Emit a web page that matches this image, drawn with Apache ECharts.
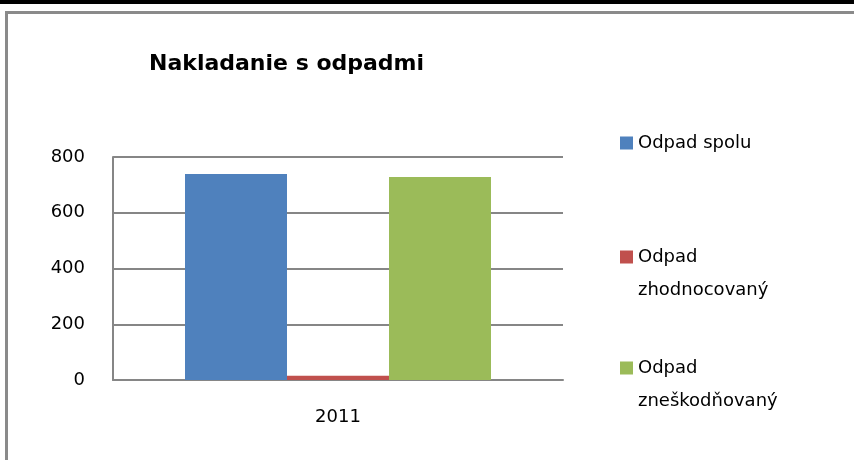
<!DOCTYPE html>
<html>
<head>
<meta charset="utf-8">
<script src="https://cdn.jsdelivr.net/npm/echarts@6/dist/echarts.min.js"></script>
<style>html,body{margin:0;padding:0;background:#fff}#c{width:854px;height:460px}</style>
</head>
<body>
<div id="c"></div>
<script>
var categories = ["2011"];
var seriesNames = ["Odpad spolu", "Odpad zhodnocovaný", "Odpad zneškodňovaný"];
var legendLabels = ["Odpad spolu", "\u00a0\nOdpad\nzhodnocovaný", "\u00a0\nOdpad\nzneškodňovaný"];
var valuesSpolu = [739];
var valuesZhodnocovany = [15];
var valuesZneskodnovany = [728];
var yTicks = { min: 0, max: 800, interval: 200 };

var colors = ["#4F81BD", "#C0504D", "#9BBB59"];
var font = "DejaVu Sans";
var chart = echarts.init(document.getElementById('c'));
var seriesData = [valuesSpolu, valuesZhodnocovany, valuesZneskodnovany];
var legendTops = [126.5, 207.5, 318.5];
var legends = seriesNames.map(function (n, i) {
  return {
    orient: 'vertical', left: 620, top: legendTops[i], padding: 0,
    itemWidth: 13, itemHeight: 13, itemGap: 0, icon: 'rect',
    data: [n],
    formatter: function () { return legendLabels[i]; },
    textStyle: { fontFamily: font, fontSize: 18, color: '#000', lineHeight: 33 },
    selectedMode: false
  };
});
chart.setOption({
  animation: false,
  color: colors,
  title: {
    text: 'Nakladanie s odpadmi', left: 149, top: 53, padding: 0,
    textStyle: { fontFamily: font, fontSize: 22, fontWeight: 'bold', color: '#000' }
  },
  legend: legends,
  grid: { left: 113, right: 291, top: 157, bottom: 80 },
  xAxis: {
    type: 'category', data: categories,
    axisLine: { lineStyle: { color: '#868686', width: 2 } },
    axisTick: { show: false },
    axisLabel: { fontFamily: font, fontSize: 18, color: '#000', margin: 28 }
  },
  yAxis: {
    type: 'value', min: yTicks.min, max: yTicks.max, interval: yTicks.interval,
    axisLine: { show: true, lineStyle: { color: '#868686', width: 2 } },
    axisTick: { show: false },
    splitLine: { lineStyle: { color: '#868686', width: 2 } },
    axisLabel: { fontFamily: font, fontSize: 18, color: '#000', margin: 28 }
  },
  series: seriesNames.map(function (n, i) {
    return { name: n, type: 'bar', data: seriesData[i], barGap: '0%', barCategoryGap: '32%' };
  }),
  graphic: [
    { type: 'rect', shape: { x: 0, y: 0, width: 854, height: 4 }, style: { fill: '#000' } },
    { type: 'rect', shape: { x: 5, y: 11, width: 849, height: 3 }, style: { fill: '#8a8a8a' } },
    { type: 'rect', shape: { x: 5, y: 11, width: 3, height: 449 }, style: { fill: '#8a8a8a' } }
  ]
});
</script>
</body>
</html>
